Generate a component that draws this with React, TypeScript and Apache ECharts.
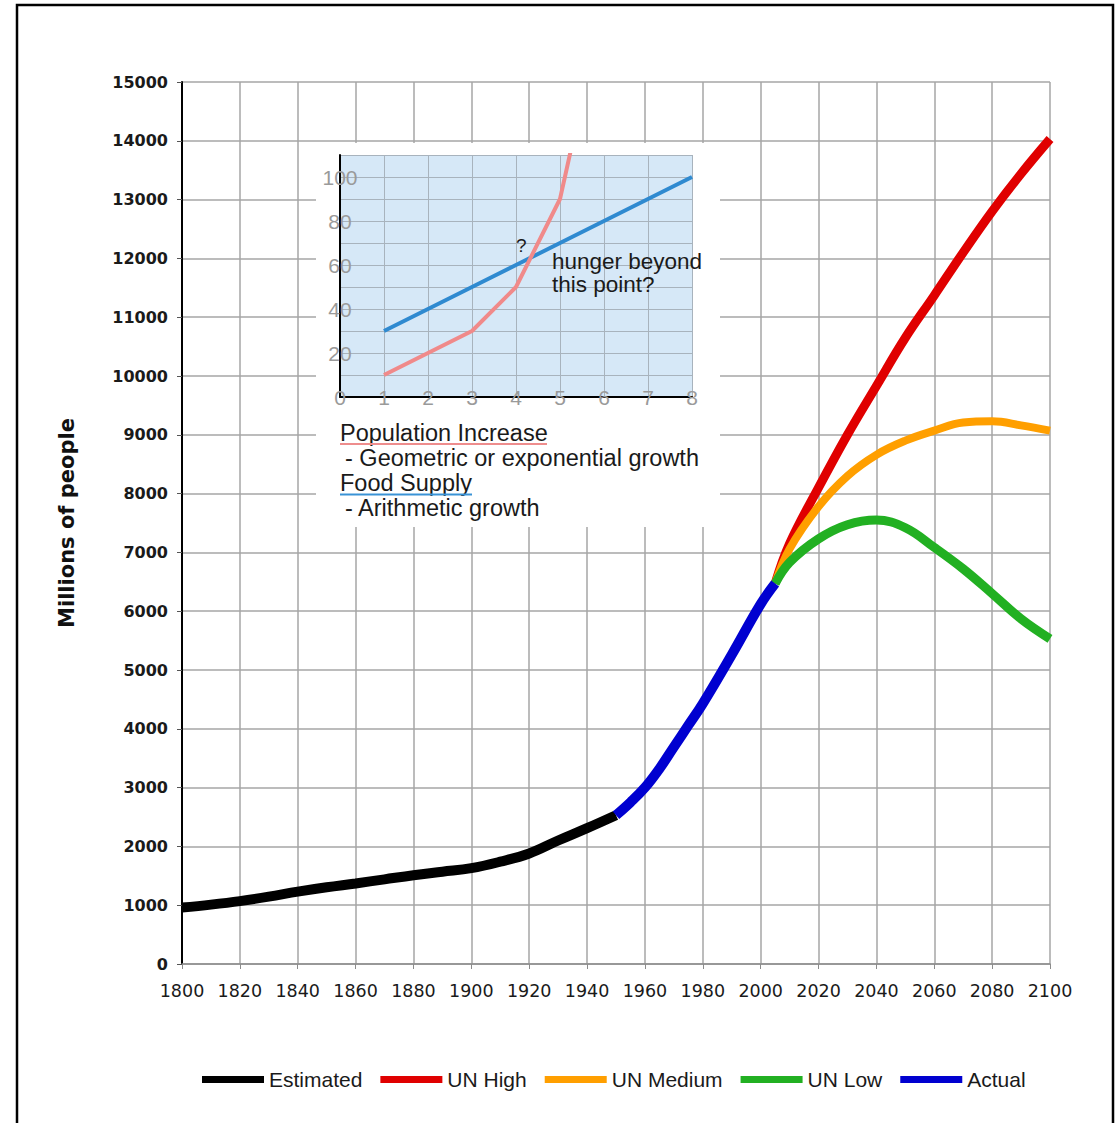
import React, { useEffect, useRef } from "react";
import * as echarts from "echarts";

// ---- Main chart data (millions of people) ----
const estimatedYears = [1800, 1810, 1820, 1830, 1840, 1850, 1860, 1870, 1880, 1890, 1900, 1910, 1920, 1930, 1940, 1950];
const estimatedValues = [960, 1010, 1070, 1145, 1230, 1305, 1370, 1440, 1510, 1570, 1630, 1740, 1880, 2100, 2310, 2530];

const actualYears = [1950, 1955, 1960, 1965, 1970, 1975, 1980, 1990, 2000, 2005];
const actualValues = [2530, 2750, 3000, 3320, 3690, 4060, 4430, 5260, 6120, 6470];

const projectionYears = [2005, 2010, 2020, 2030, 2040, 2050, 2060, 2070, 2080, 2090, 2100];
const unHighValues = [6470, 7150, 8100, 9000, 9830, 10650, 11370, 12100, 12800, 13440, 14030];
const unMediumValues = [6470, 7060, 7780, 8300, 8660, 8900, 9070, 9210, 9230, 9160, 9070];
const unLowValues = [6470, 6830, 7230, 7470, 7550, 7420, 7085, 6720, 6300, 5870, 5530];

const legendNames = ["Estimated", "UN High", "UN Medium", "UN Low", "Actual"];

// ---- Inset (Malthus) data ----
const insetFoodX = [1, 2, 3, 4, 5, 6, 7, 8];
const insetFoodValues = [30, 40, 50, 60, 70, 80, 90, 100];
const insetPopX = [1, 2, 3, 4, 5, 6];
const insetPopValues = [10, 20, 30, 50, 90, 180];

const zip = (xs: number[], ys: number[]) => xs.map((x, i) => [x, ys[i]]);

export default function App() {
  const ref = useRef<HTMLDivElement>(null);

  useEffect(() => {
    if (!ref.current) return;
    const chart = echarts.init(ref.current, undefined, { renderer: "svg" });

    const mainLine = (name: string, xs: number[], ys: number[], color: string, width: number, z = 2) => ({
      name,
      type: "line",
      xAxisIndex: 0,
      yAxisIndex: 0,
      data: zip(xs, ys),
      symbol: "none",
      smooth: 0.4,
      color,
      z,
      lineStyle: { color, width },
      itemStyle: { color },
    });

    const textEl = (text: string, x: number, y: number, fontSize = 23.5, fill = "#1a1a1a") => ({
      type: "text",
      x,
      y,
      z: 10,
      silent: true,
      style: {
        text,
        fontSize,
        fontFamily: "Liberation Sans",
        fill,
        verticalAlign: "middle",
        align: "left",
      },
    });

    const option: any = {
      animation: false,
      backgroundColor: "#ffffff",
      grid: [
        { left: 182, right: 69, top: 82, bottom: 159 },
        { left: 340, right: 427, top: 155, bottom: 726, show: true, backgroundColor: "#d6e8f7", borderWidth: 0, z: 3 },
      ],
      xAxis: [
        {
          type: "value",
          gridIndex: 0,
          min: 1800,
          max: 2100,
          interval: 20,
          axisLine: { show: true, lineStyle: { color: "#8c8c8c", width: 1.5 } },
          axisTick: { show: true, length: 5, lineStyle: { color: "#8c8c8c" } },
          axisLabel: {
            color: "#1a1a1a",
            fontFamily: "DejaVu Sans",
            fontSize: 17.5,
            margin: 18,
            formatter: (v: number) => String(v),
          },
          splitLine: { show: true, lineStyle: { color: "#a6a6a6", width: 1.5 } },
        },
        {
          type: "value",
          gridIndex: 1,
          min: 0,
          max: 8,
          interval: 1,
          z: 4,
          axisLine: { show: true, lineStyle: { color: "#000", width: 2 } },
          axisTick: { show: false },
          axisLabel: {
            color: "#9a9a9a",
            fontFamily: "Liberation Sans",
            fontSize: 21,
            margin: 0,
            align: "center",
            verticalAlign: "middle",
          },
          splitLine: { show: true, lineStyle: { color: "#a8b3bd", width: 1 } },
        },
      ],
      yAxis: [
        {
          type: "value",
          gridIndex: 0,
          min: 0,
          max: 15000,
          interval: 1000,
          name: "Millions of people",
          nameLocation: "middle",
          nameGap: 105,
          nameTextStyle: { fontFamily: "DejaVu Sans", fontWeight: "bold", fontSize: 21, color: "#111" },
          axisLine: { show: true, lineStyle: { color: "#000", width: 2 } },
          axisTick: { show: true, length: 5, lineStyle: { color: "#555" } },
          axisLabel: {
            color: "#1a1a1a",
            fontFamily: "DejaVu Sans",
            fontWeight: "bold",
            fontSize: 16,
            margin: 14,
            formatter: (v: number) => String(v),
          },
          splitLine: { show: true, lineStyle: { color: "#a6a6a6", width: 1.5 } },
        },
        {
          type: "value",
          gridIndex: 1,
          min: 0,
          max: 110,
          interval: 10,
          z: 4,
          axisLine: { show: true, lineStyle: { color: "#000", width: 2 } },
          axisTick: { show: false },
          axisLabel: {
            color: "#9a9a9a",
            fontFamily: "Liberation Sans",
            fontSize: 21,
            margin: 0,
            align: "center",
            verticalAlign: "middle",
            formatter: (v: number) => (v > 0 && v <= 100 && v % 20 === 0 ? String(v) : ""),
          },
          splitLine: { show: true, lineStyle: { color: "#a8b3bd", width: 1 } },
        },
      ],
      legend: {
        left: 197,
        top: 1064,
        itemWidth: 62,
        itemHeight: 7,
        itemGap: 18,
        icon: "rect",
        data: legendNames,
        textStyle: { fontFamily: "Liberation Sans", fontSize: 21, color: "#1a1a1a" },
      },
      series: [
        mainLine(legendNames[0], estimatedYears, estimatedValues, "#000000", 10),
        mainLine(legendNames[1], projectionYears, unHighValues, "#e00000", 9),
        mainLine(legendNames[2], projectionYears, unMediumValues, "#ff9f00", 8),
        mainLine(legendNames[3], projectionYears, unLowValues, "#22b022", 9),
        mainLine(legendNames[4], actualYears, actualValues, "#0000d0", 10, 3),
        {
          name: "Food Supply",
          type: "line",
          xAxisIndex: 1,
          yAxisIndex: 1,
          data: zip(insetFoodX, insetFoodValues),
          symbol: "none",
          z: 6,
          clip: true,
          lineStyle: { color: "#2f8ad0", width: 4 },
          itemStyle: { color: "#2f8ad0" },
        },
        {
          name: "Population Increase",
          type: "line",
          xAxisIndex: 1,
          yAxisIndex: 1,
          data: zip(insetPopX, insetPopValues),
          symbol: "none",
          z: 6,
          clip: true,
          lineStyle: { color: "#f08a8a", width: 4 },
          itemStyle: { color: "#f08a8a" },
        },
      ],
      graphic: {
        elements: [
          {
            type: "rect",
            z: 1,
            silent: true,
            shape: { x: 316, y: 143, width: 404, height: 384 },
            style: { fill: "#ffffff" },
          },
          textEl("?", 516, 245, 19),
          textEl("hunger beyond", 552, 261, 22.5),
          textEl("this point?", 552, 284, 22.5),
          textEl("Population Increase", 340, 433),
          {
            type: "line",
            z: 10,
            silent: true,
            shape: { x1: 340, y1: 444, x2: 547, y2: 444 },
            style: { stroke: "#ee8d8d", lineWidth: 2 },
          },
          textEl("- Geometric or exponential growth", 345, 458),
          textEl("Food Supply", 340, 483),
          {
            type: "line",
            z: 10,
            silent: true,
            shape: { x1: 340, y1: 494.5, x2: 472, y2: 494.5 },
            style: { stroke: "#3a93d6", lineWidth: 2 },
          },
          textEl("- Arithmetic growth", 345, 508),
          {
            type: "rect",
            z: 20,
            silent: true,
            shape: { x: 17, y: 5, width: 1096, height: 1135 },
            style: { fill: "none", stroke: "#000", lineWidth: 2.5 },
          },
        ],
      },
    };

    chart.setOption(option);
    return () => chart.dispose();
  }, []);

  return (
    <div
      ref={ref}
      style={{ position: "absolute", left: 0, top: 0, width: 1119, height: 1123, background: "#fff" }}
    />
  );
}
